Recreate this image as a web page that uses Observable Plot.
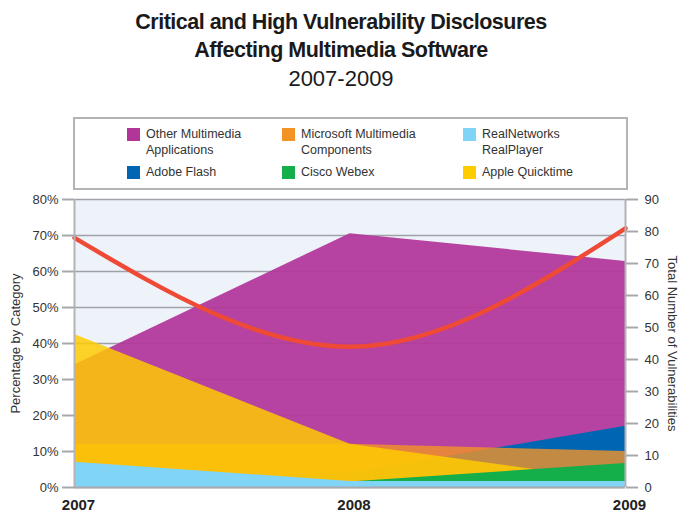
<!DOCTYPE html>
<html><head><meta charset="utf-8">
<script src="https://cdn.jsdelivr.net/npm/d3@7"></script>
<script src="https://cdn.jsdelivr.net/npm/@observablehq/plot@0.6"></script>
<style>
body{margin:0;width:682px;height:515px;position:relative;background:#fff;font-family:"Liberation Sans",Arial,sans-serif;color:#222;overflow:hidden}
#title{position:absolute;left:0;width:682px;top:8px;text-align:center;font-weight:bold;font-size:21.5px;line-height:28px;letter-spacing:-0.5px;color:#1a1a1a}
#sub{position:absolute;left:0;width:682px;top:66px;text-align:center;font-size:22px;line-height:26px;color:#1a1a1a}
#legend{position:absolute;left:73px;top:117px;width:551px;height:69px;border:2px solid #b4b4b4;}
.li{position:absolute;font-size:12.5px;line-height:16px;color:#333}
.sw{position:absolute;width:13px;height:13px}
#chart{position:absolute;left:0;top:190px}
</style></head><body>
<div id="title">Critical and High Vulnerability Disclosures<br>Affecting Multimedia Software</div>
<div id="sub">2007-2009</div>
<div id="legend"></div>
<div id="chart"></div>
<script>
// ---- data ----
const years = [2007, 2008, 2009];
const otherMultimedia = [34, 70.5, 62.8];
const adobeFlash = [0, 4, 17];
const microsoftMultimedia = [12, 12, 10];
const appleQuicktime = [42.5, 12, 1.5];
const ciscoWebex = [0, 1.5, 6.7];
const realPlayer = [7, 1.7, 1.7];
const totalVulnerabilities = [78, 44, 81];
const percentTicks = [0, 10, 20, 30, 40, 50, 60, 70, 80];
const countTicks = [0, 10, 20, 30, 40, 50, 60, 70, 80, 90];
const legendLabels = ["Other Multimedia<br>Applications", "Microsoft Multimedia<br>Components", "RealNetworks<br>RealPlayer", "Adobe Flash", "Cisco Webex", "Apple Quicktime"];
const leftAxisLabel = "Percentage by Category";
const rightAxisLabel = "Total Number of Vulnerabilities";

const colors = {
  other: "#b2369a", flash: "#0066b3", ms: "#f39325",
  quick: "#ffcc00", cisco: "#14ae4b", real: "#80d4f6"
};
const legendColors = [colors.other, colors.ms, colors.real, colors.flash, colors.cisco, colors.quick];

// legend
const leg = document.getElementById("legend");
const colX = [52, 207, 388], rowY = [9, 47];
legendLabels.forEach((lab, i) => {
  const c = i % 3, r = Math.floor(i / 3);
  const sw = document.createElement("div");
  sw.className = "sw"; sw.style.left = colX[c] + "px"; sw.style.top = rowY[r] + "px";
  sw.style.background = legendColors[i];
  leg.appendChild(sw);
  const t = document.createElement("div");
  t.className = "li"; t.style.left = (colX[c] + 19) + "px"; t.style.top = (rowY[r] - 2) + "px";
  t.innerHTML = lab;
  leg.appendChild(t);
});

const k = 80 / 90; // count -> percent scale
const area = (vals, fill, op) => Plot.areaY(years, {x: d => d, y: (d, i) => vals[i], fill, fillOpacity: op});

const chart = Plot.plot({
  width: 682, height: 325,
  marginLeft: 74, marginRight: 57, marginTop: 9, marginBottom: 28,
  style: {fontFamily: "Liberation Sans, Arial, sans-serif", fontSize: "13px", background: "transparent", overflow: "visible"},
  x: {domain: [2007, 2009]},
  y: {domain: [0, 80]},
  marks: [
    Plot.frame({fill: "#eef2f9", stroke: null}),
    Plot.ruleY(percentTicks, {stroke: "#9fa2a8", strokeWidth: 1.6}),
    area(otherMultimedia, colors.other, 0.93),
    area(adobeFlash, colors.flash, 1),
    area(microsoftMultimedia, colors.ms, 0.8),
    area(appleQuicktime, colors.quick, 0.84),
    area(ciscoWebex, colors.cisco, 1),
    area(realPlayer, colors.real, 1),
    Plot.lineY(years, {x: d => d, y: (d, i) => totalVulnerabilities[i] * k, curve: "monotone-x", stroke: "#ee4a36", strokeWidth: 4.5}),
    Plot.ruleX([2007, 2009], {stroke: "#b4b4b8", strokeWidth: 2}),
    Plot.ruleY([0], {stroke: "#a8aaae", strokeWidth: 2}),
    Plot.axisY({anchor: "left", ticks: percentTicks, tickFormat: d => d + "%", tickSize: 12, tickPadding: 4,
      stroke: "#a8a8ac", strokeWidth: 2, fill: "#333", fontSize: 13, label: null}),
    Plot.axisY({anchor: "right", ticks: countTicks.map(c => c * k), tickFormat: p => Math.round(p / k), tickSize: 12, tickPadding: 7,
      stroke: "#a8a8ac", strokeWidth: 2, fill: "#333", fontSize: 13, label: null}),
    Plot.text([leftAxisLabel], {frameAnchor: "left", textAnchor: "middle", dx: -59, rotate: -90, fontSize: 13, fill: "#333"}),
    Plot.text([rightAxisLabel], {frameAnchor: "right", textAnchor: "middle", dx: 47, rotate: 90, fontSize: 13, fill: "#333"}),
    Plot.axisX({ticks: years, tickFormat: d => String(d), tickSize: 0, tickPadding: 12, fontWeight: "bold", fontSize: 15, fill: "#222", label: null, dx: 4})
  ]
});
document.getElementById("chart").appendChild(chart);
</script>
</body></html>
